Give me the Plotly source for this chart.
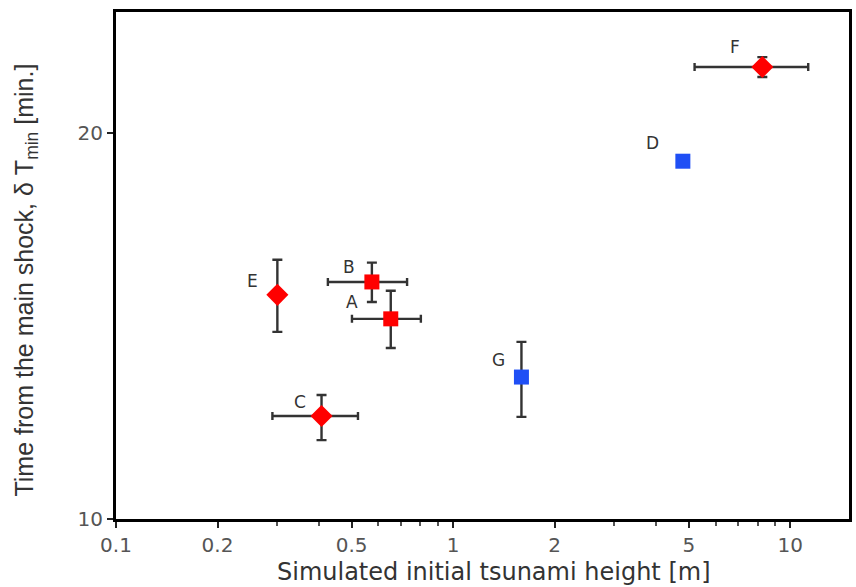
import math
import plotly.graph_objects as go

# Data
names = ["A", "B", "C", "D", "E", "F", "G"]
height = [0.653, 0.574, 0.407, 4.80, 0.301, 8.26, 1.594]
h_lo = [0.501, 0.425, 0.291, None, None, 5.2, None]
h_hi = [0.802, 0.730, 0.522, None, None, 11.3, None]
dt = [14.32, 15.30, 12.03, 19.0, 14.95, 22.5, 12.90]
dt_lo = [13.59, 14.76, 11.52, None, 13.99, 22.1, 12.01]
dt_hi = [15.06, 15.84, 12.49, None, 15.92, 22.9, 13.74]
symbols = ["square", "square", "diamond", "square", "diamond", "diamond", "square"]
colors = ["#ff0000", "#ff0000", "#ff0000", "#1f4ff5", "#ff0000", "#ff0000", "#1f4ff5"]
label_dx = [-39, -23, -22, -30, -25, -27, -23]
label_dy = [17, 15, 14, 18, 14, 20, 17]

x_ticks = [0.1, 0.2, 0.5, 1, 2, 5, 10]
x_ticklabels = ["0.1", "0.2", "0.5", "1", "2", "5", "10"]
y_ticks = [10, 20]

fig = go.Figure()
for i, n in enumerate(names):
    ex = None
    if h_lo[i] is not None:
        ex = dict(type="data", symmetric=False,
                  array=[h_hi[i] - height[i]], arrayminus=[height[i] - h_lo[i]],
                  color="#333333", thickness=2.4, width=4)
    ey = None
    if dt_lo[i] is not None:
        ey = dict(type="data", symmetric=False,
                  array=[dt_hi[i] - dt[i]], arrayminus=[dt[i] - dt_lo[i]],
                  color="#333333", thickness=2.4, width=5)
    fig.add_trace(go.Scatter(
        x=[height[i]], y=[dt[i]], mode="markers",
        marker=dict(symbol=symbols[i], color=colors[i], size=17 if symbols[i] == "diamond" else 15,
                    line=dict(width=0)),
        error_x=ex, error_y=ey, showlegend=False, name=n))
    fig.add_annotation(x=math.log10(height[i]), y=math.log10(dt[i]), xref="x", yref="y", text=n,
                       showarrow=False, xshift=label_dx[i], yshift=label_dy[i],
                       font=dict(family="DejaVu Sans", size=17, color="#333333"))

fig.add_annotation(x=-0.1223, y=0.471, xref="paper", yref="paper",
                   xanchor="center", yanchor="middle",
                   text="Time from the main shock, \u03b4 T<sub>min</sub> [min.]",
                   textangle=-90, showarrow=False,
                   font=dict(family="Liberation Sans", size=25, color="#333333"))
fig.add_annotation(x=0.516, y=-0.1045, xref="paper", yref="paper",
                   xanchor="center", yanchor="middle",
                   text="Simulated initial tsunami height [m]", showarrow=False,
                   font=dict(family="DejaVu Sans", size=24, color="#333333"))

fig.update_layout(
    width=856, height=587,
    margin=dict(l=116, r=4, t=12, b=68),
    plot_bgcolor="white", paper_bgcolor="white",
    xaxis=dict(type="log", range=[-1, 1.174],
               tickvals=x_ticks, ticktext=x_ticklabels,
               ticks="outside", ticklen=6, tickwidth=2, tickcolor="#222",
               minor=dict(tickvals=[0.3, 0.4, 0.6, 0.7, 0.8, 0.9, 3, 4, 6, 7, 8, 9],
                          ticks="outside", ticklen=4, tickwidth=1.5, tickcolor="#555"),
               showgrid=False, zeroline=False,
               showline=True, linecolor="black", linewidth=3, mirror=True,
               tickfont=dict(family="DejaVu Sans", size=20, color="#555555")),
    yaxis=dict(type="log", range=[1, 1.395],
               tickvals=y_ticks, ticktext=["10", "20"],
               ticks="outside", ticklen=6, tickwidth=2, tickcolor="#222",
               showgrid=False, zeroline=False,
               showline=True, linecolor="black", linewidth=3, mirror=True,
               tickfont=dict(family="DejaVu Sans", size=20, color="#555555")),
)

fig.write_html("out.html")
